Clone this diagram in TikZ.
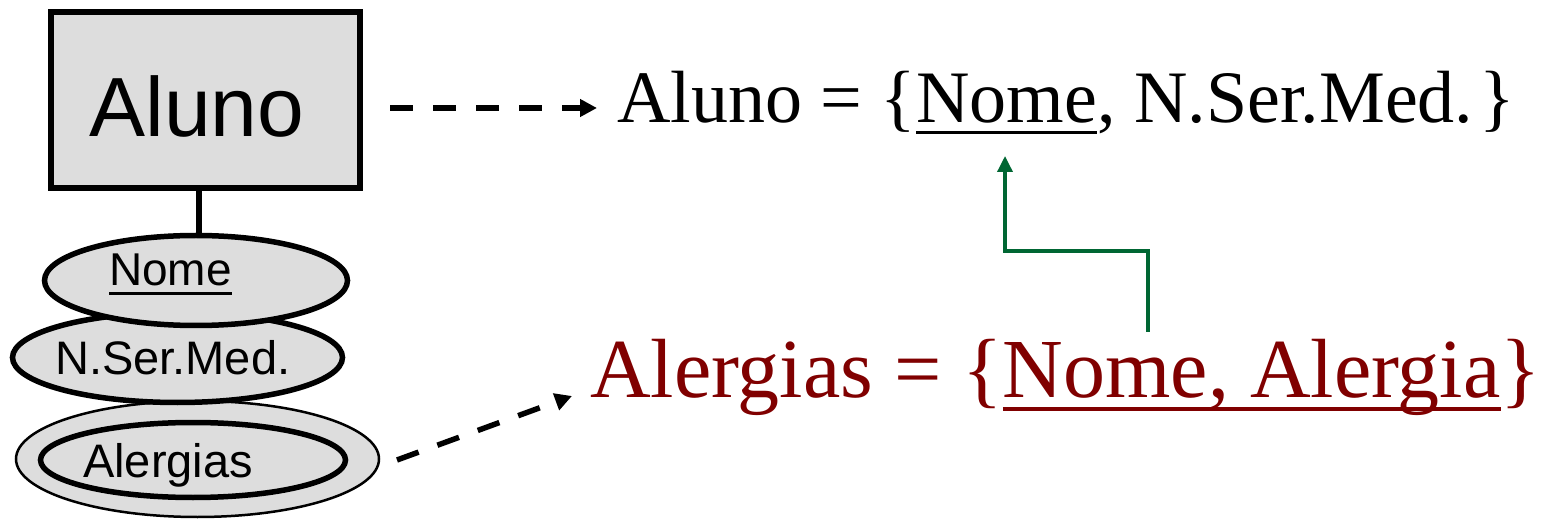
\documentclass[tikz,border=0pt]{standalone}
\usepackage{fontspec}
\setmainfont{Liberation Serif}
\newfontfamily\arialf{Liberation Sans}
\usetikzlibrary{shapes.geometric,arrows.meta}
\definecolor{boxgray}{HTML}{DDDDDD}
\definecolor{relred}{HTML}{800000}
\definecolor{fkgreen}{HTML}{006633}
\newcommand\myul[3]{\setbox0=\hbox{#3}\rlap{\rule[-#1]{\wd0}{#2}}\box0}
\begin{document}
\begin{tikzpicture}[x=1pt,y=-1pt,
  entbox/.style={draw,line width=6pt,fill=boxgray,rectangle,minimum width=309pt,minimum height=176pt,inner sep=0pt},
  attr/.style={draw,line width=5.5pt,fill=boxgray,ellipse,inner sep=0pt},
  lbl/.style={inner sep=0pt,anchor=base west,font=\arialf\fontsize{47}{50}\selectfont},
  rel/.style={inner sep=0pt,anchor=base west},
  dasharrow/.style={line width=5.5pt,dash pattern=on 23pt off 20pt,-{Triangle[length=17pt,width=17pt]}},
  fkarrow/.style={line width=3.5pt,fkgreen,-{Triangle[length=16pt,width=15pt]}}
]
\useasboundingbox (0,0) rectangle (1551,521);
% entity
\node[entbox] (aluno) at (205,100) {};
\node[inner sep=0pt,anchor=base,font=\arialf\fontsize{84}{90}\selectfont] (alunotxt) at (197,137) {Aluno};
% multivalued attribute (drawn first)
\node[draw,line width=2.5pt,fill=boxgray,ellipse,inner sep=0pt,minimum width=363pt,minimum height=116pt] (alergout) at (197.5,459) {};
\node[attr,minimum width=305pt,minimum height=75pt] (alerg) at (193,460) {};
\node[lbl] (alergtxt) at (83,477) {Alergias};
% N.Ser.Med.
\node[attr,minimum width=330pt,minimum height=90pt] (nsm) at (177.5,357.5) {};
\node[lbl] (nsmtxt) at (55,374) {N.Ser.Med.};
% Nome
\node[attr,minimum width=303pt,minimum height=90pt] (nome) at (196,280.5) {};
\node[lbl,font=\arialf\fontsize{46}{50}\selectfont] (nometxt) at (109,286) {\myul{9pt}{3pt}{Nome}};
% link entity - key attribute
\draw[line width=5.5pt] ([xshift=-6pt]aluno.south) -- ([xshift=3pt]nome.north);
% relations
\node[rel,font=\fontsize{74}{80}\selectfont] (relaluno) at (617,123) {Aluno = \{\myul{11pt}{3pt}{Nome}, N.Ser.Med.\kern6pt\}};
\node[rel,font=\fontsize{84}{90}\selectfont,text=relred] (relalerg) at (590,397) {Alergias = \{\myul{14pt}{4pt}{Nome, Alergia}\}};
% arrows
\coordinate (a1) at (390,108);
\coordinate (a2) at (597,108);
\draw[dasharrow] (a1) -- (a2);
\coordinate (b1) at (397,460);
\coordinate (b2) at (572,396);
\draw[dasharrow] (b1) -- (b2);
\coordinate (g1) at (1148,332);
\coordinate (g2) at (1005,251);
\coordinate (g3) at (1005,156);
\draw[fkarrow] (g1) |- (g2) -- (g3);
\end{tikzpicture}
\end{document}
